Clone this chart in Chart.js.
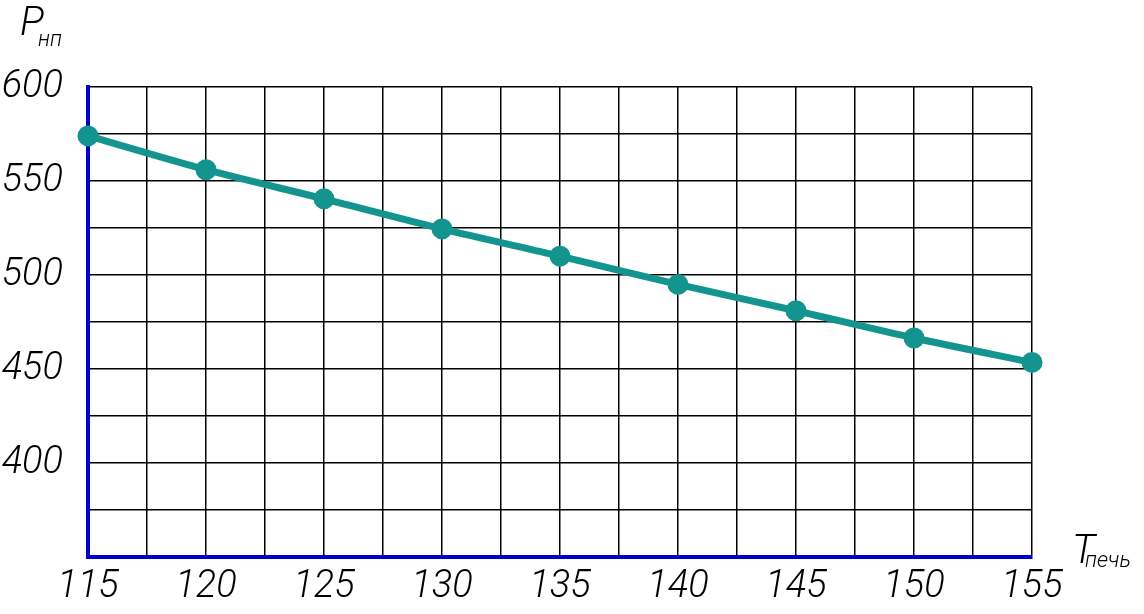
<!DOCTYPE html>
<html>
<head>
<meta charset="utf-8">
<script src="https://cdn.jsdelivr.net/npm/chart.js@4"></script>
<style>
  body { margin: 0; background: #fff; }
</style>
</head>
<body>
<canvas id="myChart" width="1144" height="614"></canvas>
<script>
var temps = [115, 120, 125, 130, 135, 140, 145, 150, 155];
var pressure = [574, 556, 540.5, 524.5, 510, 495, 481, 466.5, 453.5];
var xTickLabels = [115, 120, 125, 130, 135, 140, 145, 150, 155];
var yTickLabels = [400, 450, 500, 550, 600];

var labelFont = { family: "Roboto, 'DejaVu Sans Condensed', sans-serif", size: 38, style: 'italic', weight: 300 };

var axisTitles = {
  id: 'axisTitles',
  afterDraw: function(chart) {
    var ctx = chart.ctx;
    ctx.save();
    ctx.fillStyle = '#000';
    ctx.textBaseline = 'alphabetic';
    ctx.font = "italic 300 40px Roboto, sans-serif";
    ctx.fillText('P', 20, 35);
    ctx.fillText('T', 1072, 563);
    ctx.font = "italic 300 22px Roboto, sans-serif";
    ctx.fillText('нп', 38, 46);
    ctx.fillText('печь', 1085, 567);
    ctx.restore();
  }
};

var ctx = document.getElementById('myChart').getContext('2d');
var myChart = new Chart(ctx, {
  type: 'line',
  data: {
    datasets: [{
      data: temps.map(function(t, i) { return { x: t, y: pressure[i] }; }),
      borderColor: '#13948f',
      backgroundColor: '#13948f',
      borderWidth: 7,
      pointRadius: 7,
      pointHoverRadius: 7,
      tension: 0.3,
      clip: false
    }]
  },
  options: {
    responsive: false,
    animation: false,
    layout: { padding: { top: 87, right: 112, left: 0, bottom: 0 } },
    plugins: { legend: { display: false }, tooltip: { enabled: false } },
    scales: {
      x: {
        type: 'linear',
        min: 115,
        max: 155,
        afterFit: function(scale) { scale.height = 57; },
        border: { color: '#0000cc', width: 4 },
        grid: { color: '#000', lineWidth: 1.5, drawTicks: false },
        ticks: {
          stepSize: 2.5,
          padding: 8,
          color: '#000',
          font: labelFont,
          maxRotation: 0,
          autoSkip: false,
          callback: function(v) { return xTickLabels.indexOf(v) >= 0 ? String(v) : ''; }
        }
      },
      y: {
        min: 350,
        max: 600,
        afterFit: function(scale) { scale.width = 88; },
        border: { color: '#0000cc', width: 4 },
        grid: { color: '#000', lineWidth: 1.5, drawTicks: false },
        ticks: {
          stepSize: 25,
          padding: 25,
          color: '#000',
          font: labelFont,
          autoSkip: false,
          callback: function(v) { return yTickLabels.indexOf(v) >= 0 ? String(v) : ''; }
        }
      }
    }
  },
  plugins: [axisTitles]
});
</script>
</body>
</html>
